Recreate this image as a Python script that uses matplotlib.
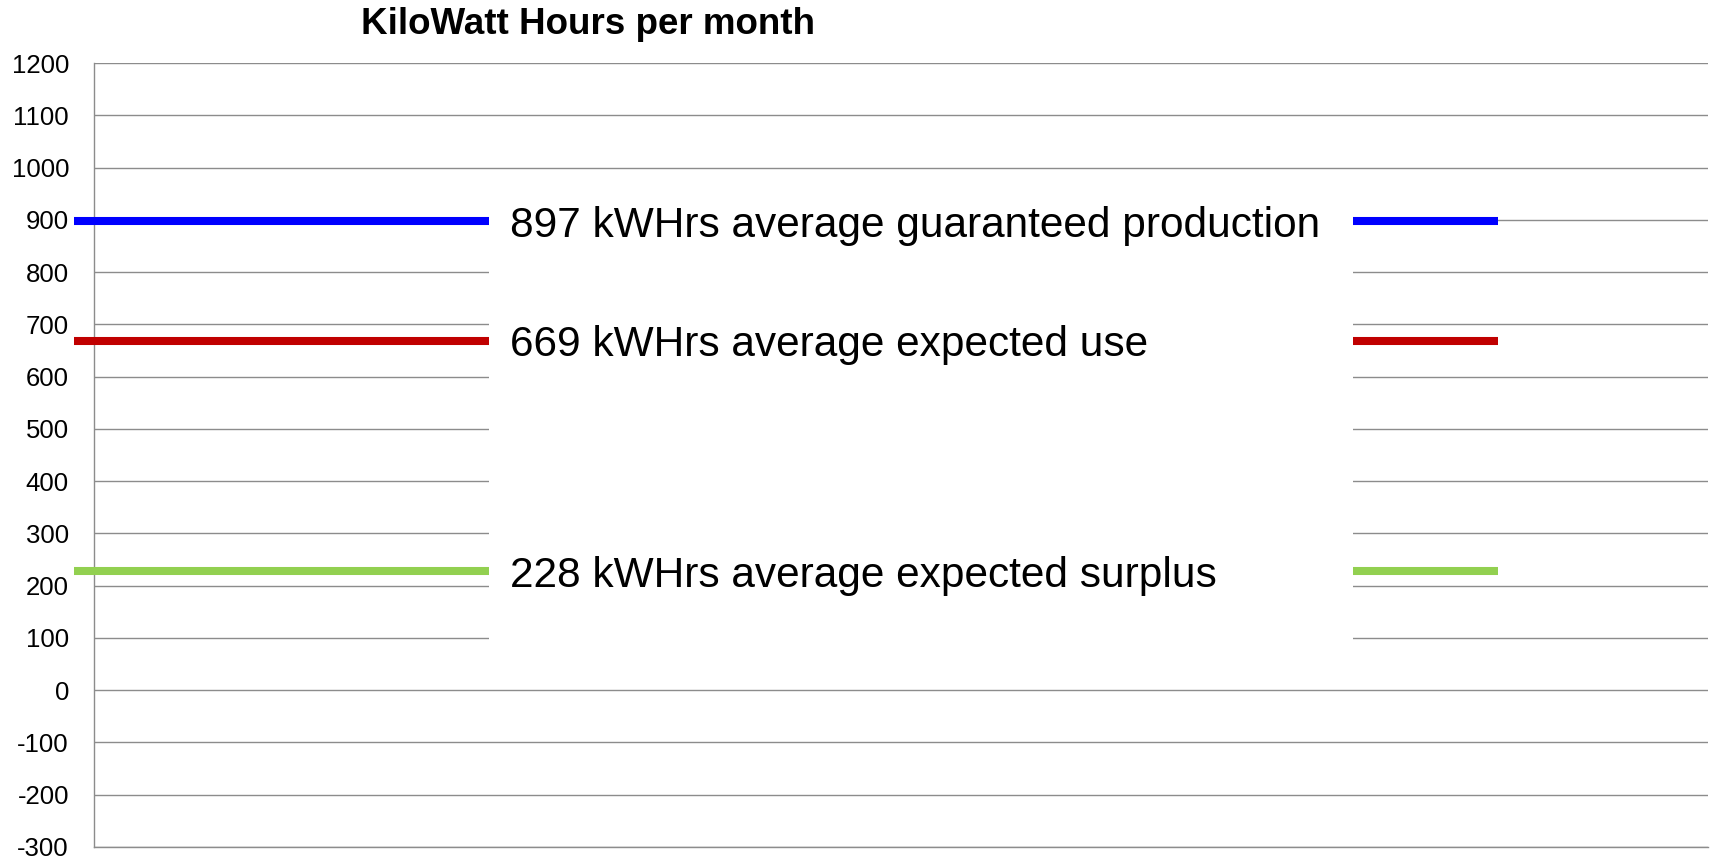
import matplotlib.pyplot as plt
from matplotlib.patches import Rectangle

plt.rcParams['font.family'] = ['Liberation Sans', 'DejaVu Sans']

# monthly averages, kWh
series_values = [897, 669, 228]
series_labels = ['897 kWHrs average guaranteed production',
                 '669 kWHrs average expected use',
                 '228 kWHrs average expected surplus']
series_colors = ['#0000FF', '#C00000', '#92D050']
y_ticks = list(range(-300, 1201, 100))

fig = plt.figure(figsize=(17.13, 8.6), dpi=100)
ax = fig.add_axes([94 / 1713, 1 - 847 / 860, 1614 / 1713, 784 / 860])

ax.set_xlim(0, 1)
ax.set_ylim(-300, 1200)
ax.set_yticks(y_ticks)
ax.set_yticklabels([str(t) for t in y_ticks], fontsize=18.5)
ax.tick_params(axis='y', length=0, pad=18)
ax.set_xticks([])
ax.yaxis.grid(True, color='#8c8c8c', linewidth=1.0)
ax.set_axisbelow(True)
for s in ['top', 'right']:
    ax.spines[s].set_visible(False)
ax.spines['left'].set_color('#8c8c8c')
ax.spines['bottom'].set_color('#8c8c8c')
ax.spines['left'].set_linewidth(1.0)
ax.spines['bottom'].set_linewidth(1.0)

# horizontal level lines, running a bit past the left axis
x0, x1 = -0.0124, 0.87
for v, c in zip(series_values, series_colors):
    ax.plot([x0, x1], [v, v], color=c, linewidth=5.8, solid_capstyle='butt',
            clip_on=False, zorder=3)

# white label box covering the middle of the chart
ax.add_patch(Rectangle((0.245, 0.227), 0.535, 0.613, transform=ax.transAxes,
                       facecolor='white', edgecolor='none', zorder=4))
for v, lab in zip(series_values, series_labels):
    ax.text(0.2577, v, lab, transform=ax.get_yaxis_transform(),
            fontsize=30.5, va='center_baseline', ha='left', zorder=5)

fig.text(588 / 1713, 1 - 24 / 860, 'KiloWatt Hours per month', fontsize=26.5,
         fontweight='bold', ha='center', va='center')

fig.savefig('out.png', dpi=100)
